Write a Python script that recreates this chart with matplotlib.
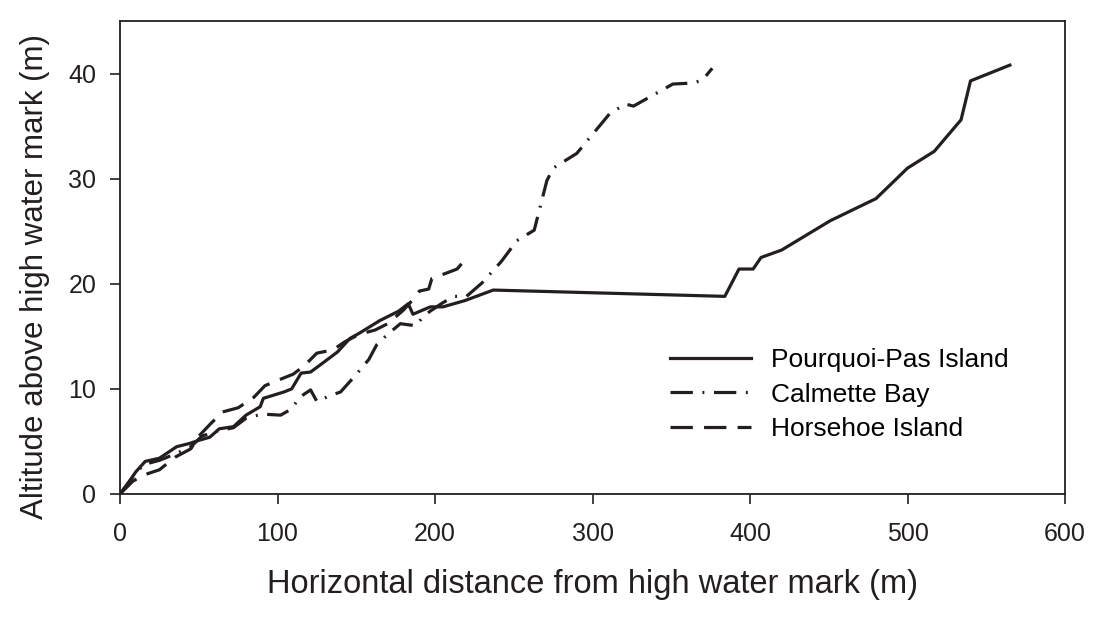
import matplotlib.pyplot as plt

plt.rcParams["font.family"] = ["Liberation Sans", "DejaVu Sans"]

# Pourquoi-Pas Island (solid)
pp_x = [0, 5, 10, 16, 25, 36, 44, 50, 57, 63, 72, 80, 89, 91, 104, 109, 115, 121,
        130, 138, 146, 152, 165, 177, 183, 186, 197, 205, 219, 237,
        384, 393, 402, 407, 420, 451, 480, 500, 517, 534, 540, 565]
pp_y = [0, 1.0, 2.1, 3.1, 3.4, 4.5, 4.8, 5.1, 5.4, 6.2, 6.4, 7.5, 8.3, 9.1, 9.7, 10.0, 11.5, 11.6,
        12.6, 13.5, 14.8, 15.3, 16.5, 17.4, 18.1, 17.1, 17.8, 17.8, 18.4, 19.4,
        18.8, 21.4, 21.4, 22.5, 23.2, 26.0, 28.1, 31.0, 32.6, 35.6, 39.3, 40.8]

# Calmette Bay (dash-dot)
cb_x = [0, 8, 15, 25, 35, 45, 52, 62, 72, 80, 90, 102, 109, 114, 121, 125, 134, 140,
        149, 158, 163, 170, 178, 188, 192, 197, 205, 212, 220, 230, 242, 252, 263,
        271, 275, 290, 311, 321, 326, 351, 364, 370, 376]
cb_y = [0, 1.6, 2.8, 3.2, 3.8, 4.5, 5.5, 6.0, 6.3, 7.2, 7.6, 7.5, 8.1, 9.2, 9.9, 8.8, 9.4, 9.7,
        11.2, 12.8, 14.2, 15.2, 16.2, 16.0, 16.8, 17.4, 18.2, 18.8, 18.8, 20.1, 22.1, 24.1, 25.1,
        29.8, 31.0, 32.4, 36.2, 37.1, 36.9, 39.0, 39.1, 39.4, 40.5]

# Horsehoe Island (dashed)
hi_x = [0, 8, 15, 25, 35, 45, 50, 57, 65, 75, 85, 92, 100, 110, 117, 125, 135, 143,
        152, 162, 170, 180, 186, 190, 196, 198, 207, 214, 218]
hi_y = [0, 1.2, 1.8, 2.3, 3.5, 4.3, 5.5, 6.6, 7.8, 8.2, 9.2, 10.3, 10.8, 11.4, 12.2, 13.4, 13.7, 14.5,
        15.2, 15.6, 16.2, 17.5, 18.5, 19.3, 19.5, 20.5, 21.0, 21.4, 22.1]

x_ticks = [0, 100, 200, 300, 400, 500, 600]
y_ticks = [0, 10, 20, 30, 40]

fig = plt.figure(figsize=(10.94, 6.17), dpi=100)
ax = fig.add_axes([0.1097, 0.1994, 0.8638, 0.7666])

lw = 2.3
ink = "#231f20"
ax.plot(pp_x, pp_y, color=ink, lw=lw, linestyle="-", label="Pourquoi-Pas Island")
ax.plot(cb_x, cb_y, color=ink, lw=lw, linestyle=(0, (7, 3, 0.6, 3)), label="Calmette Bay")
ax.plot(hi_x, hi_y, color=ink, lw=lw, linestyle=(0, (7, 3.5)), label="Horsehoe Island")

ax.set_xlim(0, 600)
ax.set_ylim(0, 45)
ax.set_xticks(x_ticks)
ax.set_yticks(y_ticks)
ax.tick_params(direction="out", length=7, width=1.2, labelsize=18, colors=ink)
ax.tick_params(axis="x", pad=13)
ax.tick_params(axis="y", pad=10)
for s in ax.spines.values():
    s.set_linewidth(1.3)
    s.set_color(ink)

ax.set_xlabel("Horizontal distance from high water mark (m)", fontsize=23.5, labelpad=17, color=ink)
ax.set_ylabel("Altitude above high water mark (m)", fontsize=22.5, color=ink)
ax.yaxis.set_label_coords(-0.074, 0.46)

ax.legend(loc="center left", bbox_to_anchor=(0.5565, 0.21), frameon=False, fontsize=19,
          handlelength=3.1, handletextpad=0.75, labelspacing=0.4)

fig.savefig("out.png", dpi=100)
